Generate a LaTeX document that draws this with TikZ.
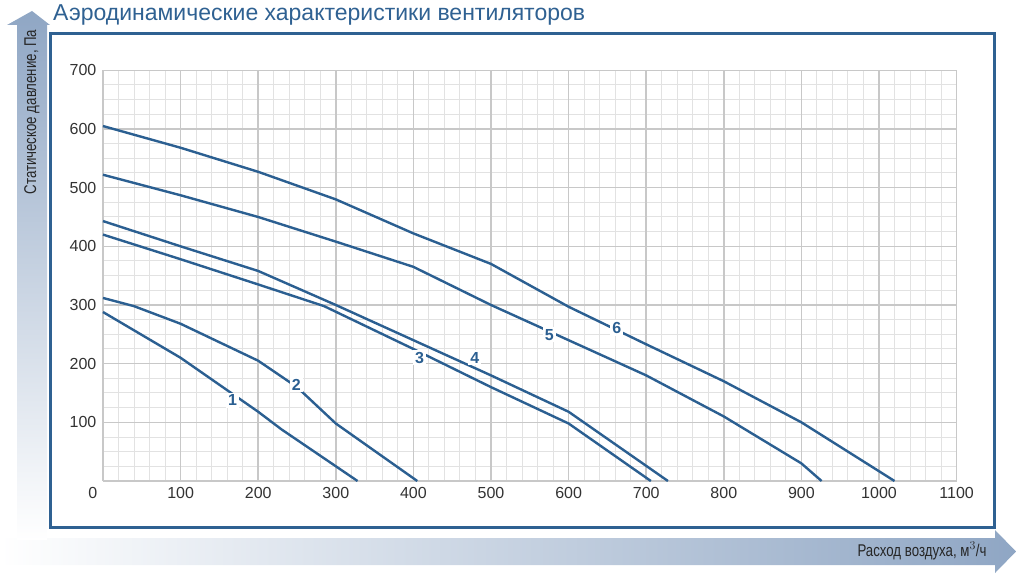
\documentclass[tikz,border=0pt]{standalone}
\usepackage{fontspec}
\setmainfont{Liberation Sans}
\newfontfamily\narrowfont[FakeStretch=0.78]{Liberation Sans}
\usetikzlibrary{positioning,shapes.arrows}
\definecolor{curveblue}{HTML}{2B5F91}
\definecolor{frameblue}{HTML}{2F6192}
\definecolor{arrowblue}{HTML}{8FA6C4}
\definecolor{gridgray}{HTML}{E2E2E2}
\definecolor{majorgray}{HTML}{C8C8C8}
\tikzset{
  curve/.style={curveblue,line width=2.4pt,line join=round},
  tag/.style={fill=white,inner sep=2pt,text=curveblue,font=\bfseries\fontsize{16}{16}\selectfont},
  tick/.style={font=\fontsize{16}{16}\selectfont,text=black!80}
}
\begin{document}
\begin{tikzpicture}[x=1pt,y=-1pt]
   \useasboundingbox (0,0) rectangle (1024,583);
   % axis arrows
   \shade[left color=white,right color=arrowblue] (0,538) -- (995,538) -- (995,530) -- (1016,551.5) -- (995,573) -- (995,565) -- (0,565) -- cycle;
   \shade[top color=arrowblue,bottom color=white] (17,540) -- (17,25) -- (7,25) -- (32,11) -- (50,25) -- (47,25) -- (47,540) -- cycle;
   \node[rotate=90,font=\narrowfont\fontsize{17}{17}\selectfont,text=black!85] (ylab) at (32,112) {Статическое давление, Па};
   \node[anchor=east,font=\narrowfont\fontsize{17}{17}\selectfont,text=black!85] (xlab) at (990,551) {Расход воздуха, м$^3$/ч};
   % title and frame
   \node[anchor=west,text=frameblue,font=\fontsize{23}{23}\selectfont,inner sep=0pt] (title) at (53,15) {Аэродинамические характеристики вентиляторов};
   \draw[frameblue,line width=3pt,fill=white] (50,34) rectangle (994,527);
   % grid in data units
   \begin{scope}[shift={(103,481)},x=0.776pt,y=0.5867pt]
     \foreach \q in {0,20,...,1100} \draw[gridgray,line width=1pt] (\q,0) -- (\q,700);
     \foreach \p in {0,25,...,700} \draw[gridgray,line width=1pt] (0,\p) -- (1100,\p);
     \foreach \q in {0,100,...,1100} \draw[majorgray,line width=1.6pt] (\q,0) -- (\q,700);
     \foreach \p in {0,100,...,700} \draw[majorgray,line width=1.6pt] (0,\p) -- (1100,\p);
     \foreach \q in {100,200,...,1100} \node[tick] (x\q) at (\q,-20) {\q};
     \foreach \p in {100,200,...,700} \node[tick,anchor=east] (y\p) at (-4,\p) {\p};
     \node[tick] (x0) at (-13,-20) {0};
     % curves
     \draw[curve] (0,288) -- (100,210) -- (200,118) -- (230,88) -- (328,0);
     \draw[curve] (0,312) -- (40,298) -- (100,268) -- (200,205) -- (250,160) -- (300,98) -- (405,0);
     \draw[curve] (0,420) -- (100,378) -- (200,335) -- (285,298) -- (400,225) -- (500,160) -- (600,98) -- (706,0);
     \draw[curve] (0,443) -- (100,400) -- (200,358) -- (300,300) -- (400,240) -- (500,180) -- (600,118) -- (728,0);
     \draw[curve] (0,522) -- (100,487) -- (200,450) -- (300,408) -- (400,365) -- (500,300) -- (600,240) -- (700,180) -- (800,110) -- (900,30) -- (926,0);
     \draw[curve] (0,605) -- (100,568) -- (200,527) -- (300,480) -- (400,422) -- (500,370) -- (600,297) -- (700,233) -- (800,170) -- (900,100) -- (1020,0);
     \node[tag] (c1) at (167,138) {1};
     \node[tag] (c2) at (249,164) {2};
     \node[tag] (c3) at (408,210) {3};
     \node[tag] (c4) at (479,210) {4};
     \node[tag] (c5) at (575,249) {5};
     \node[tag] (c6) at (662,261) {6};
   \end{scope}
\end{tikzpicture}
\end{document}
